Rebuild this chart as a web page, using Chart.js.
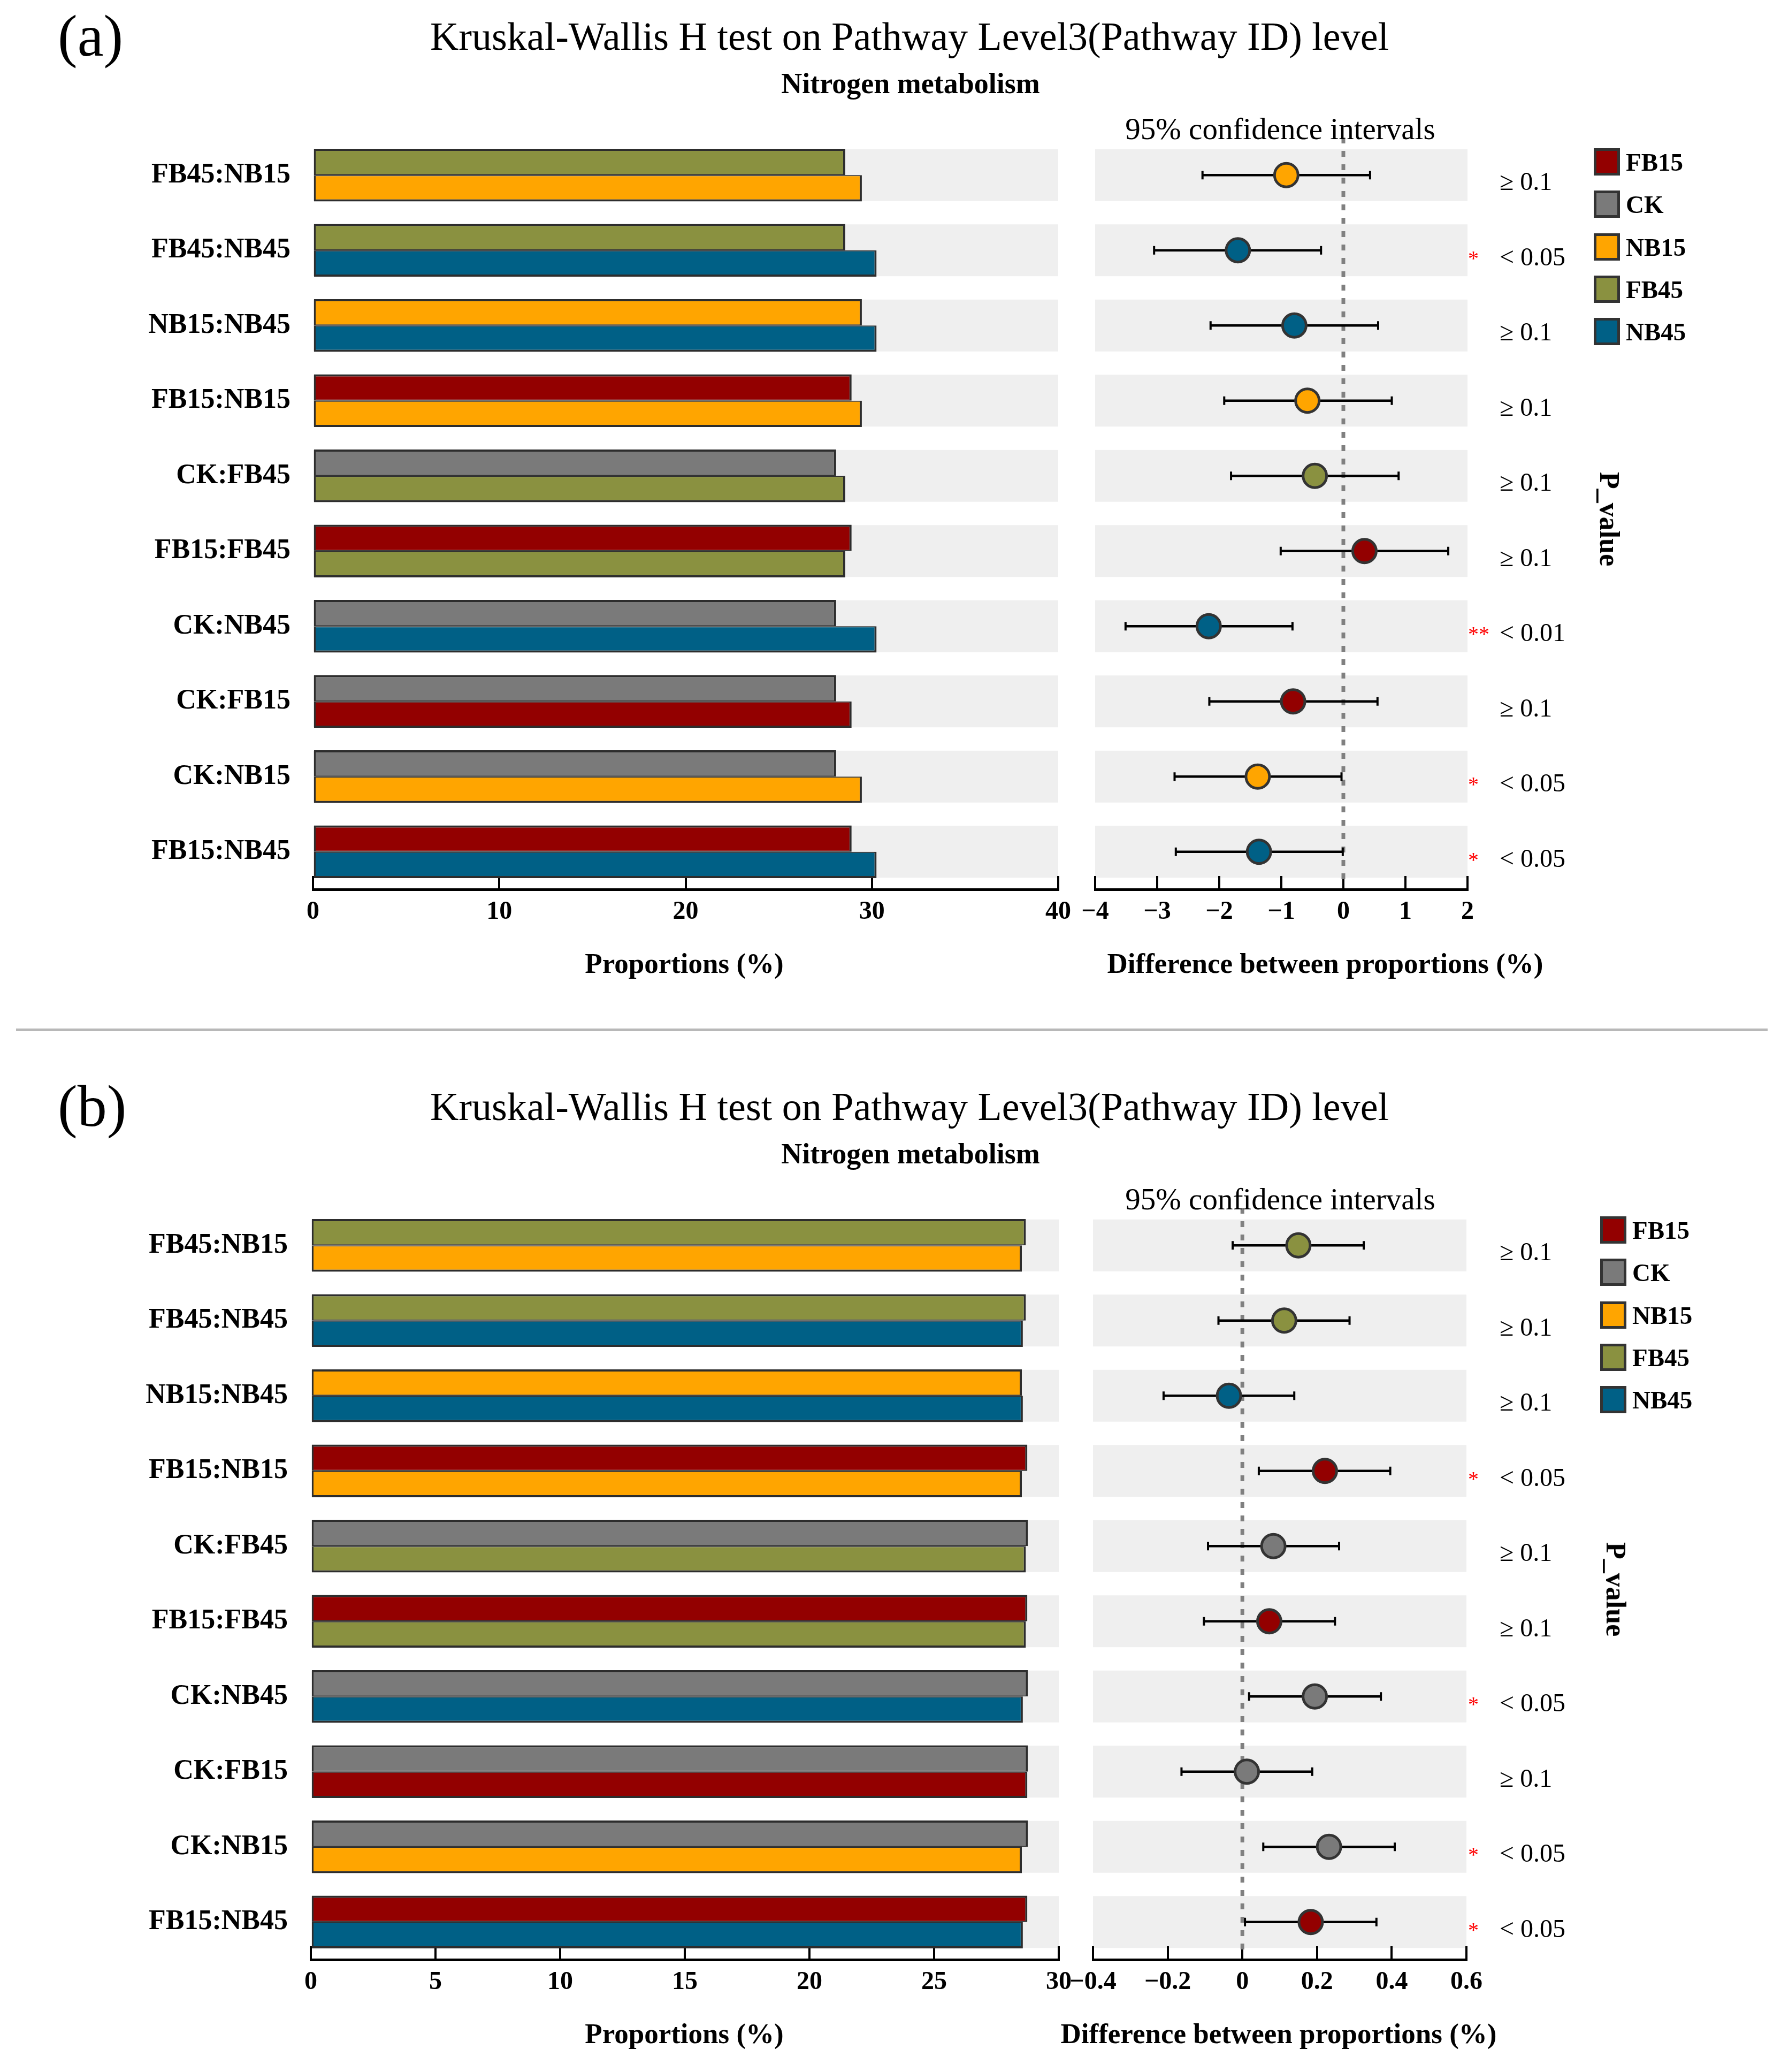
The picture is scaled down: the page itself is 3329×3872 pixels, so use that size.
<!DOCTYPE html>
<html>
<head>
<meta charset="utf-8">
<script src="https://cdn.jsdelivr.net/npm/chart.js@4.4.1/dist/chart.umd.min.js"></script>
<style>
body { margin: 0; background: #fff; width: 3329px; height: 3872px; overflow: hidden; position: relative; font-family: "Liberation Serif", serif; color: #000; }
.panel { position: absolute; left: 0; width: 3329px; height: 1870px; }
.panel canvas { position: absolute; top: 0; }
.txt { position: absolute; line-height: 1; white-space: nowrap; }
.sq { position: absolute; box-sizing: border-box; border: 5px solid #333; }
.sep { position: absolute; left: 30px; top: 1922px; width: 3274px; height: 5px; background: #b8b8b8; }
</style>
</head>
<body>
<div class="panel" id="panelA" style="top:0px"></div>
<div class="sep"></div>
<div class="panel" id="panelB" style="top:2000px"></div>
<script>
var groups = ['FB15', 'CK', 'NB15', 'FB45', 'NB45'];
var groupColors = ['#930000', '#7a7a7a', '#ffa500', '#8a9140', '#006086'];
var rowLabels = ['FB45:NB15', 'FB45:NB45', 'NB15:NB45', 'FB15:NB15', 'CK:FB45',
                 'FB15:FB45', 'CK:NB45', 'CK:FB15', 'CK:NB15', 'FB15:NB45'];

// panel (a) - proportions of the two groups in each pair
var topA = [28.57, 28.57, 29.46, 28.91, 28.08, 28.91, 28.08, 28.08, 28.08, 28.91];
var bottomA = [29.46, 30.25, 30.25, 29.46, 28.57, 28.57, 30.25, 28.91, 29.46, 30.25];
// difference and 95% CI
var diffA = [-0.92, -1.70, -0.79, -0.58, -0.46, 0.34, -2.17, -0.81, -1.38, -1.36];
var lowA = [-2.27, -3.05, -2.14, -1.92, -1.81, -1.01, -3.51, -2.16, -2.72, -2.70];
var highA = [0.43, -0.36, 0.56, 0.78, 0.89, 1.69, -0.82, 0.55, -0.03, -0.01];
var dotA = ['NB15', 'NB45', 'NB45', 'NB15', 'FB45', 'FB15', 'NB45', 'FB15', 'NB15', 'NB45'];
var pA = ['\u2265 0.1', '< 0.05', '\u2265 0.1', '\u2265 0.1', '\u2265 0.1', '\u2265 0.1', '< 0.01', '\u2265 0.1', '< 0.05', '< 0.05'];
var starA = ['', '*', '', '', '', '', '**', '', '*', '*'];
var barTicksA = [0, 10, 20, 30, 40];
var ciTicksA = [-4, -3, -2, -1, 0, 1, 2];

// panel (b)
var topB = [28.68, 28.68, 28.52, 28.74, 28.76, 28.74, 28.76, 28.76, 28.76, 28.74];
var bottomB = [28.52, 28.56, 28.56, 28.52, 28.68, 28.68, 28.56, 28.74, 28.52, 28.56];
var diffB = [0.150, 0.112, -0.036, 0.221, 0.083, 0.072, 0.194, 0.012, 0.232, 0.183];
var lowB = [-0.026, -0.064, -0.211, 0.044, -0.092, -0.103, 0.018, -0.163, 0.056, 0.007];
var highB = [0.325, 0.287, 0.139, 0.396, 0.259, 0.248, 0.371, 0.187, 0.408, 0.359];
var dotB = ['FB45', 'FB45', 'NB45', 'FB15', 'CK', 'FB15', 'CK', 'CK', 'CK', 'FB15'];
var pB = ['\u2265 0.1', '\u2265 0.1', '\u2265 0.1', '< 0.05', '\u2265 0.1', '\u2265 0.1', '< 0.05', '\u2265 0.1', '< 0.05', '< 0.05'];
var starB = ['', '', '', '*', '', '', '*', '', '*', '*'];
var barTicksB = [0, 5, 10, 15, 20, 25, 30];
var ciTicksB = [-0.4, -0.2, 0, 0.2, 0.4, 0.6];

var title = 'Kruskal-Wallis H test on Pathway Level3(Pathway ID) level';
var subtitle = 'Nitrogen metabolism';

Chart.defaults.font.family = '"Liberation Serif", serif';
Chart.defaults.color = '#000';

var PANEL_H = 1870;
var AREA_TOP = 257;
var AREA_BOTTOM = 1662;
var AXIS_H = 200;
var BAR_W = 2080;     // bar canvas width
var CI_X = 1940;      // left edge of the CI canvas

function colorOf(g) {
    return groupColors[groups.indexOf(g)];
}

// grey band behind every row
var bandPlugin = {
    id: 'bands',
    beforeDraw: function(chart) {
        var ctx = chart.ctx, y = chart.scales.y, x = chart.scales.x;
        var step = y.getPixelForValue(1) - y.getPixelForValue(0);
        var h = step * 0.69;
        ctx.save();
        ctx.fillStyle = '#efefef';
        for (var i = 0; i < rowLabels.length; i++) {
            var cy = y.getPixelForValue(i);
            ctx.fillRect(x.left, cy - h / 2, x.right - x.left, h);
        }
        ctx.restore();
    }
};

// dashed line at zero difference
var zeroPlugin = {
    id: 'zeroLine',
    beforeDatasetsDraw: function(chart) {
        var ctx = chart.ctx, x = chart.scales.x;
        var px = x.getPixelForValue(0);
        ctx.save();
        ctx.strokeStyle = '#808080';
        ctx.lineWidth = 7;
        ctx.setLineDash([11, 14]);
        ctx.beginPath();
        ctx.moveTo(px, chart.chartArea.top);
        ctx.lineTo(px, chart.chartArea.bottom - 13);
        ctx.stroke();
        ctx.restore();
    }
};

// p-value text and stars right of the CI plot
var pvalPlugin = {
    id: 'pvals',
    afterDraw: function(chart, args, opts) {
        var ctx = chart.ctx, y = chart.scales.y;
        ctx.save();
        ctx.textBaseline = 'alphabetic';
        ctx.textAlign = 'left';
        for (var i = 0; i < opts.labels.length; i++) {
            var cy = y.getPixelForValue(i) + 28;
            ctx.font = '48px "Liberation Serif"';
            ctx.fillStyle = '#000';
            ctx.fillText(opts.labels[i], opts.textX, cy);
            if (opts.stars[i]) {
                ctx.font = '40px "Liberation Serif"';
                ctx.fillStyle = '#ff0000';
                ctx.fillText(opts.stars[i], opts.starX, cy);
            }
        }
        ctx.restore();
    }
};

function addText(el, text, x, y, size, bold, align) {
    var d = document.createElement('div');
    d.className = 'txt';
    d.textContent = text;
    d.style.left = x + 'px';
    d.style.top = y + 'px';
    d.style.fontSize = size + 'px';
    if (bold) d.style.fontWeight = 'bold';
    d.style.transform = align == 'left' ? 'translate(0,-50%)' : 'translate(-50%,-50%)';
    el.appendChild(d);
    return d;
}

function xAxis(ticksArr, fmt) {
    return {
        type: 'linear',
        min: ticksArr[0],
        max: ticksArr[ticksArr.length - 1],
        afterBuildTicks: function(s) {
            s.ticks = ticksArr.map(function(v) { return {value: v}; });
        },
        grid: { drawOnChartArea: false, drawTicks: true, tickLength: -25, color: '#000', lineWidth: 4 },
        border: { display: true, color: '#000', width: 5 },
        ticks: { font: { size: 48, weight: 'bold' }, color: '#000', padding: 39, maxRotation: 0, autoSkip: false, callback: fmt },
        afterFit: function(s) { s.height = AXIS_H; }
    };
}

function makePanel(el, p) {
    // left: grouped horizontal bars
    var barCanvas = document.createElement('canvas');
    barCanvas.width = BAR_W;
    barCanvas.height = PANEL_H;
    barCanvas.style.left = '0px';
    el.appendChild(barCanvas);

    new Chart(barCanvas.getContext('2d'), {
        type: 'bar',
        data: {
            labels: rowLabels,
            datasets: [{
                data: p.top,
                backgroundColor: rowLabels.map(function(l) { return colorOf(l.split(':')[0]); }),
                borderColor: '#2d2d2d',
                borderWidth: { top: 4, right: 4, bottom: 2, left: 3 },
                borderSkipped: false,
                categoryPercentage: 0.70,
                barPercentage: 1.0
            }, {
                data: p.bottom,
                backgroundColor: rowLabels.map(function(l) { return colorOf(l.split(':')[1]); }),
                borderColor: '#2d2d2d',
                borderWidth: { top: 2, right: 4, bottom: 4, left: 3 },
                borderSkipped: false,
                categoryPercentage: 0.70,
                barPercentage: 1.0
            }]
        },
        options: {
            indexAxis: 'y',
            responsive: false,
            animation: false,
            events: [],
            devicePixelRatio: 1,
            layout: { padding: { left: 0, right: BAR_W - p.barRight, top: AREA_TOP, bottom: PANEL_H - AREA_BOTTOM - AXIS_H } },
            plugins: { legend: { display: false }, tooltip: { enabled: false } },
            scales: {
                y: {
                    type: 'category',
                    offset: true,
                    grid: { display: false, drawTicks: false },
                    border: { display: false },
                    ticks: { font: { size: 52, weight: 'bold' }, color: '#000', padding: p.barLeft - p.labelRight },
                    afterFit: function(s) { s.width = p.barLeft; }
                },
                x: xAxis(p.barTicks, function(v) { return String(v); })
            }
        },
        plugins: [bandPlugin]
    });

    // right: differences with 95% confidence intervals
    var ciCanvas = document.createElement('canvas');
    ciCanvas.width = 3329 - CI_X;
    ciCanvas.height = PANEL_H;
    ciCanvas.style.left = CI_X + 'px';
    el.appendChild(ciCanvas);

    new Chart(ciCanvas.getContext('2d'), {
        type: 'bar',
        data: {
            labels: rowLabels,
            datasets: [{
                type: 'scatter',
                data: rowLabels.map(function(l, i) { return {x: p.diff[i], y: l}; }),
                backgroundColor: p.dot.map(colorOf),
                borderColor: '#333',
                borderWidth: 5,
                pointRadius: 22,
                order: 1,
                xAxisID: 'x', yAxisID: 'y'
            }, {
                type: 'scatter',
                data: rowLabels.map(function(l, i) { return {x: p.low[i], y: l}; }),
                pointStyle: 'line',
                rotation: 90,
                pointRadius: 8,
                borderWidth: 4,
                borderColor: '#000',
                order: 2,
                xAxisID: 'x', yAxisID: 'y'
            }, {
                type: 'scatter',
                data: rowLabels.map(function(l, i) { return {x: p.high[i], y: l}; }),
                pointStyle: 'line',
                rotation: 90,
                pointRadius: 8,
                borderWidth: 4,
                borderColor: '#000',
                order: 2,
                xAxisID: 'x', yAxisID: 'y'
            }, {
                type: 'bar',
                data: rowLabels.map(function(l, i) { return [p.low[i], p.high[i]]; }),
                backgroundColor: '#000',
                borderWidth: 0,
                barThickness: 4,
                order: 3,
                xAxisID: 'x', yAxisID: 'y'
            }]
        },
        options: {
            indexAxis: 'y',
            responsive: false,
            animation: false,
            events: [],
            devicePixelRatio: 1,
            layout: { padding: { left: p.ciLeft - CI_X, right: 3329 - p.ciRight, top: AREA_TOP, bottom: PANEL_H - AREA_BOTTOM - AXIS_H } },
            plugins: {
                legend: { display: false },
                tooltip: { enabled: false },
                pvals: { labels: p.pvals, stars: p.stars, textX: 2803 - CI_X, starX: 2744 - CI_X }
            },
            scales: {
                y: { type: 'category', offset: true, display: false },
                x: xAxis(p.ciTicks, function(v) { return String(v).replace('-', '\u2212'); })
            }
        },
        plugins: [bandPlugin, zeroPlugin, pvalPlugin]
    });

    // text around the plots
    addText(el, p.tag, 108, 67, 110, false, 'left');
    addText(el, title, 1700, 68, 74, false);
    addText(el, subtitle, 1702, 156, 54, true);
    addText(el, '95% confidence intervals', 2393, 240, 57, false);
    addText(el, 'Proportions (%)', 1279, 1800, 53, true);
    addText(el, 'Difference between proportions (%)', p.ciTitleX, 1800, 53, true);

    for (var i = 0; i < groups.length; i++) {
        var sq = document.createElement('div');
        sq.className = 'sq';
        sq.style.left = p.legendX + 'px';
        sq.style.top = (p.legendY + i * 79.3) + 'px';
        sq.style.width = '49px';
        sq.style.height = '51px';
        sq.style.background = groupColors[i];
        el.appendChild(sq);
        addText(el, groups[i], p.legendX + 60, p.legendY + i * 79.3 + 26, 47, true, 'left');
    }

    var pv = addText(el, 'P_value', p.pvalueX, 970, 52, true);
    pv.style.transform = 'translate(-50%,-50%) rotate(90deg)';
}

makePanel(document.getElementById('panelA'), {
    tag: '(a)', top: topA, bottom: bottomA, diff: diffA, low: lowA, high: highA,
    dot: dotA, pvals: pA, stars: starA, barTicks: barTicksA, ciTicks: ciTicksA,
    barLeft: 585, barRight: 1978, labelRight: 543, ciLeft: 2047, ciRight: 2743,
    ciTitleX: 2477, legendX: 2979, legendY: 277, pvalueX: 3008
});

makePanel(document.getElementById('panelB'), {
    tag: '(b)', top: topB, bottom: bottomB, diff: diffB, low: lowB, high: highB,
    dot: dotB, pvals: pB, stars: starB, barTicks: barTicksB, ciTicks: ciTicksB,
    barLeft: 581, barRight: 1979, labelRight: 538, ciLeft: 2043, ciRight: 2741,
    ciTitleX: 2390, legendX: 2991, legendY: 273, pvalueX: 3020
});
</script>
</body>
</html>
